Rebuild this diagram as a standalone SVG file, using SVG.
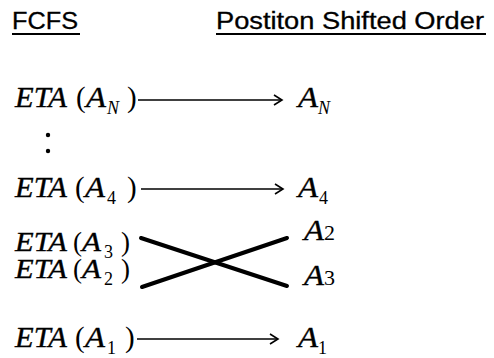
<svg xmlns="http://www.w3.org/2000/svg" width="494" height="358" viewBox="0 0 494 358">
<defs>
<style>
.hdr{font-family:"Liberation Sans",Arial,sans-serif;font-size:23px;fill:#000;stroke:#000;stroke-width:0.3}
.ul{stroke:#000;stroke-width:1.8}
.m{font-family:"Liberation Serif","Times New Roman",serif;font-size:29px;font-style:italic;fill:#000;stroke:#000;stroke-width:0.35}
.p{font-family:"Liberation Serif","Times New Roman",serif;font-size:29px;fill:#000}
.s{font-size:27px}
.sub{font-family:"Liberation Serif","Times New Roman",serif;font-size:18px;fill:#000}
.subi{font-family:"Liberation Serif","Times New Roman",serif;font-size:18px;font-style:italic;fill:#000}
.dig{font-family:"Liberation Serif","Times New Roman",serif;font-size:22px;fill:#000}
.arr{stroke:#000;stroke-width:1.6;fill:none}
.x{stroke:#000;stroke-width:4;stroke-linecap:round}
</style>
<marker id="ah" markerWidth="12" markerHeight="12" refX="10" refY="6" orient="auto" markerUnits="userSpaceOnUse">
<path d="M2,1 L10,6 L2,11" fill="none" stroke="#000" stroke-width="1.6"/>
</marker>
</defs>
<g id="headers">
<text class="hdr" x="12" y="29" textLength="66" lengthAdjust="spacingAndGlyphs">FCFS</text>
<line class="ul" x1="12" y1="34" x2="80" y2="34"/>
<text class="hdr" x="216" y="29" textLength="268" lengthAdjust="spacingAndGlyphs">Postiton Shifted Order</text>
<line class="ul" x1="216" y1="34" x2="486" y2="34"/>
</g>
<g id="etaN">
<text class="m" x="15" y="107" textLength="52" lengthAdjust="spacingAndGlyphs">ETA</text>
<text class="p" x="76" y="107">(</text>
<text class="m" x="86" y="107" textLength="20" lengthAdjust="spacingAndGlyphs">A</text>
<text class="subi" x="107" y="114">N</text>
<text class="p" x="127" y="107">)</text>
</g>
<g id="dots">
<circle cx="48" cy="135" r="2.2" fill="#000"/>
<circle cx="48" cy="151" r="2.2" fill="#000"/>
</g>
<g id="eta4">
<text class="m" x="15" y="197" textLength="52" lengthAdjust="spacingAndGlyphs">ETA</text>
<text class="p" x="75" y="197">(</text>
<text class="m" x="85" y="197" textLength="20" lengthAdjust="spacingAndGlyphs">A</text>
<text class="sub" x="107" y="204">4</text>
<text class="p" x="127" y="197">)</text>
</g>
<g id="eta3">
<text class="m s" x="15" y="251" textLength="52" lengthAdjust="spacingAndGlyphs">ETA</text>
<text class="p s" x="73" y="251">(</text>
<text class="m s" x="82" y="251" textLength="19" lengthAdjust="spacingAndGlyphs">A</text>
<text class="sub" x="104" y="258">3</text>
<text class="p s" x="121" y="251">)</text>
</g>
<g id="eta2">
<text class="m s" x="15" y="278" textLength="52" lengthAdjust="spacingAndGlyphs">ETA</text>
<text class="p s" x="73" y="278">(</text>
<text class="m s" x="82" y="278" textLength="19" lengthAdjust="spacingAndGlyphs">A</text>
<text class="sub" x="104" y="285">2</text>
<text class="p s" x="121" y="278">)</text>
</g>
<g id="eta1">
<text class="m" x="15" y="347" textLength="52" lengthAdjust="spacingAndGlyphs">ETA</text>
<text class="p" x="75" y="347">(</text>
<text class="m" x="85" y="347" textLength="20" lengthAdjust="spacingAndGlyphs">A</text>
<text class="sub" x="107" y="354">1</text>
<text class="p" x="125" y="347">)</text>
</g>
<g id="aN">
<text class="m" x="298" y="107" textLength="20" lengthAdjust="spacingAndGlyphs">A</text>
<text class="subi" x="318" y="114">N</text>
</g>
<g id="a4">
<text class="m" x="298" y="197" textLength="20" lengthAdjust="spacingAndGlyphs">A</text>
<text class="sub" x="319" y="204">4</text>
</g>
<g id="a2">
<text class="m" x="304" y="240" textLength="20" lengthAdjust="spacingAndGlyphs">A</text>
<text class="dig" x="324" y="240">2</text>
</g>
<g id="a3">
<text class="m" x="304" y="285" textLength="20" lengthAdjust="spacingAndGlyphs">A</text>
<text class="dig" x="324" y="285">3</text>
</g>
<g id="a1">
<text class="m" x="298" y="347" textLength="20" lengthAdjust="spacingAndGlyphs">A</text>
<text class="sub" x="318" y="354">1</text>
</g>
<g id="connectors">
<line class="arr" x1="138" y1="100" x2="282" y2="100" marker-end="url(#ah)"/>
<line class="arr" x1="141" y1="189" x2="283" y2="189" marker-end="url(#ah)"/>
<line class="arr" x1="137" y1="339" x2="278" y2="339" marker-end="url(#ah)"/>
<line class="x" x1="141" y1="238" x2="287" y2="286"/>
<line class="x" x1="142" y1="287" x2="287" y2="238"/>
</g>
</svg>
